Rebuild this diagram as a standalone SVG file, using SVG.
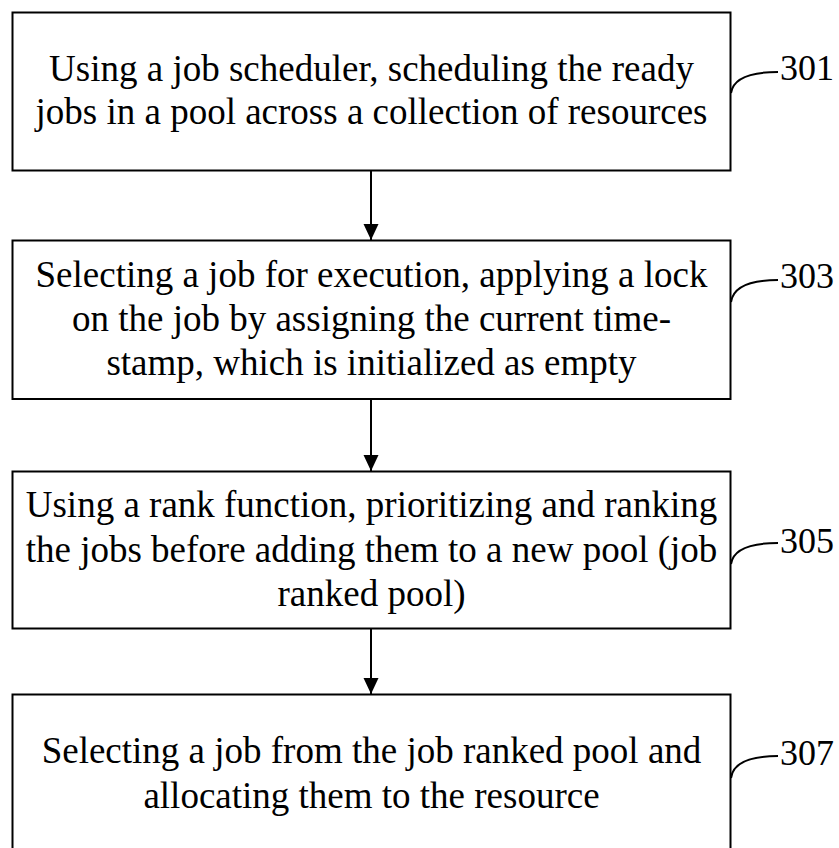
<svg xmlns="http://www.w3.org/2000/svg" width="839" height="848" viewBox="0 0 839 848">
  <defs>
    <marker id="arrow" markerWidth="16" markerHeight="16" viewBox="0 0 16 16" refX="16" refY="8" orient="auto" markerUnits="userSpaceOnUse">
      <path d="M0,0.5 L16,8 L0,15.5 Z" fill="#000"/>
    </marker>
    <style>
      .box { fill: #fff; stroke: #000; stroke-width: 2; }
      .txt { font-size: 37px; fill: #000; text-anchor: middle; }
      .ref { font-size: 36px; fill: #000; }
      .lead { fill: none; stroke: #000; stroke-width: 2; }
      .conn { stroke: #000; stroke-width: 2; fill: none; }
    </style>
  </defs>
  <rect width="839" height="848" fill="#fff"/>

  <g id="connectors">
    <line class="conn" x1="371" y1="171" x2="371" y2="240" marker-end="url(#arrow)"/>
    <line class="conn" x1="371" y1="399" x2="371" y2="471" marker-end="url(#arrow)"/>
    <line class="conn" x1="371" y1="628" x2="371" y2="694" marker-end="url(#arrow)"/>
  </g>

  <g font-family="Liberation Serif, serif">
  <g id="step-301">
    <rect class="box" x="12.5" y="12.5" width="718" height="158"/>
    <text class="txt" x="371.5" y="81">Using a job scheduler, scheduling the ready</text>
    <text class="txt" x="371.5" y="124">jobs in a pool across a collection of resources</text>
    <path class="lead" d="M731,93 Q734,72 778,72"/>
    <text class="ref" x="780" y="80">301</text>
  </g>

  <g id="step-303">
    <rect class="box" x="12.5" y="240.5" width="718" height="158.5"/>
    <text class="txt" x="371.5" y="287">Selecting a job for execution, applying a lock</text>
    <text class="txt" x="371.5" y="331">on the job by assigning the current time-</text>
    <text class="txt" x="371.5" y="375">stamp, which is initialized as empty</text>
    <path class="lead" d="M731,302 Q734,280 778,280"/>
    <text class="ref" x="780" y="288">303</text>
  </g>

  <g id="step-305">
    <rect class="box" x="12.5" y="471.5" width="718" height="157"/>
    <text class="txt" x="371.5" y="517">Using a rank function, prioritizing and ranking</text>
    <text class="txt" x="371.5" y="562">the jobs before adding them to a new pool (job</text>
    <text class="txt" x="371.5" y="606">ranked pool)</text>
    <path class="lead" d="M731,564 Q734,543 778,543"/>
    <text class="ref" x="780" y="553">305</text>
  </g>

  <g id="step-307">
    <rect class="box" x="12.5" y="694.5" width="718" height="160"/>
    <text class="txt" x="371.5" y="763">Selecting a job from the job ranked pool and</text>
    <text class="txt" x="371.5" y="808">allocating them to the resource</text>
    <path class="lead" d="M731,778 Q734,756 778,756"/>
    <text class="ref" x="780" y="765">307</text>
  </g>
  </g>
</svg>
